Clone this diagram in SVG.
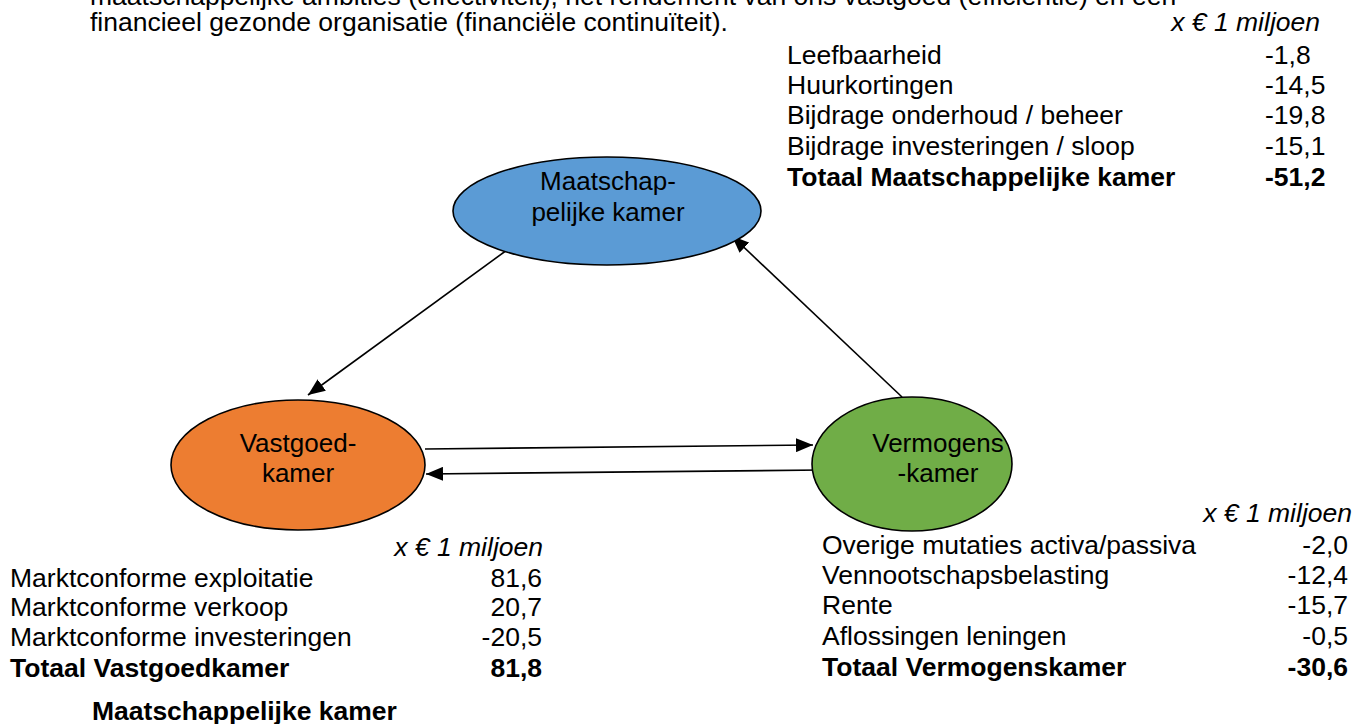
<svg xmlns="http://www.w3.org/2000/svg" width="1365" height="724" viewBox="0 0 1365 724">
<style>
text{font-family:"Liberation Sans",Arial,sans-serif;font-size:26.5px;fill:#000}
.b{font-weight:bold}
.i{font-style:italic}
.r{text-anchor:end}
.m{text-anchor:middle;font-size:26px}
.node{stroke:#000;stroke-width:1.6}
.conn{stroke:#000;stroke-width:1.6;fill:none;marker-end:url(#ah)}
</style>
<defs>
<marker id="ah" markerUnits="userSpaceOnUse" markerWidth="18" markerHeight="14" refX="17" refY="7" orient="auto">
<path d="M0,0 L17,7 L0,14 Z" fill="#000"/>
</marker>
</defs>
<rect width="1365" height="724" fill="#fff"/>
<g id="intro">
<text x="90" y="5">maatschappelijke ambities (effectiviteit), het rendement van ons vastgoed (efficiëntie) en een</text>
<text x="90" y="31">financieel gezonde organisatie (financiële continuïteit).</text>
</g>
<g id="connectors">
<line class="conn" x1="507" y1="250" x2="308" y2="395"/>
<line class="conn" x1="902" y1="397" x2="732" y2="236"/>
<line class="conn" x1="425" y1="449" x2="813" y2="445"/>
<line class="conn" x1="822" y1="470" x2="426" y2="474"/>
</g>
<g id="maatschappelijke-kamer">
<ellipse class="node" cx="607" cy="211" rx="154" ry="54" fill="#5B9BD5"/>
<text class="m" x="608" y="190">Maatschap-</text>
<text class="m" x="608" y="221">pelijke kamer</text>
</g>
<g id="vastgoedkamer">
<ellipse class="node" cx="298" cy="465" rx="127" ry="65" fill="#ED7D31"/>
<text class="m" x="298" y="452">Vastgoed-</text>
<text class="m" x="298" y="482">kamer</text>
</g>
<g id="vermogenskamer">
<ellipse class="node" cx="912" cy="464" rx="100" ry="67" fill="#70AD47"/>
<text class="m" x="938" y="452">Vermogens</text>
<text class="m" x="938" y="482">-kamer</text>
</g>
<g id="tabel-maatschappelijk">
<text class="i r" x="1320" y="31">x € 1 miljoen</text>
<text x="787" y="64">Leefbaarheid</text><text x="1265" y="64">-1,8</text>
<text x="787" y="94">Huurkortingen</text><text x="1265" y="94">-14,5</text>
<text x="787" y="124">Bijdrage onderhoud / beheer</text><text x="1265" y="124">-19,8</text>
<text x="787" y="155">Bijdrage investeringen / sloop</text><text x="1265" y="155">-15,1</text>
<text class="b" x="787" y="186">Totaal Maatschappelijke kamer</text><text class="b" x="1265" y="186">-51,2</text>
</g>
<g id="tabel-vastgoed">
<text class="i r" x="543" y="556">x € 1 miljoen</text>
<text x="10" y="587">Marktconforme exploitatie</text><text class="r" x="542" y="587">81,6</text>
<text x="10" y="616">Marktconforme verkoop</text><text class="r" x="542" y="616">20,7</text>
<text x="10" y="646">Marktconforme investeringen</text><text class="r" x="542" y="646">-20,5</text>
<text class="b" x="10" y="677">Totaal Vastgoedkamer</text><text class="b r" x="542" y="677">81,8</text>
<text class="b" x="92" y="720">Maatschappelijke kamer</text>
</g>
<g id="tabel-vermogen">
<text class="i r" x="1352" y="522">x € 1 miljoen</text>
<text x="822" y="554">Overige mutaties activa/passiva</text><text class="r" x="1348" y="554">-2,0</text>
<text x="822" y="584">Vennootschapsbelasting</text><text class="r" x="1348" y="584">-12,4</text>
<text x="822" y="614">Rente</text><text class="r" x="1348" y="614">-15,7</text>
<text x="822" y="645">Aflossingen leningen</text><text class="r" x="1348" y="645">-0,5</text>
<text class="b" x="822" y="676">Totaal Vermogenskamer</text><text class="b r" x="1348" y="676">-30,6</text>
</g>
</svg>
